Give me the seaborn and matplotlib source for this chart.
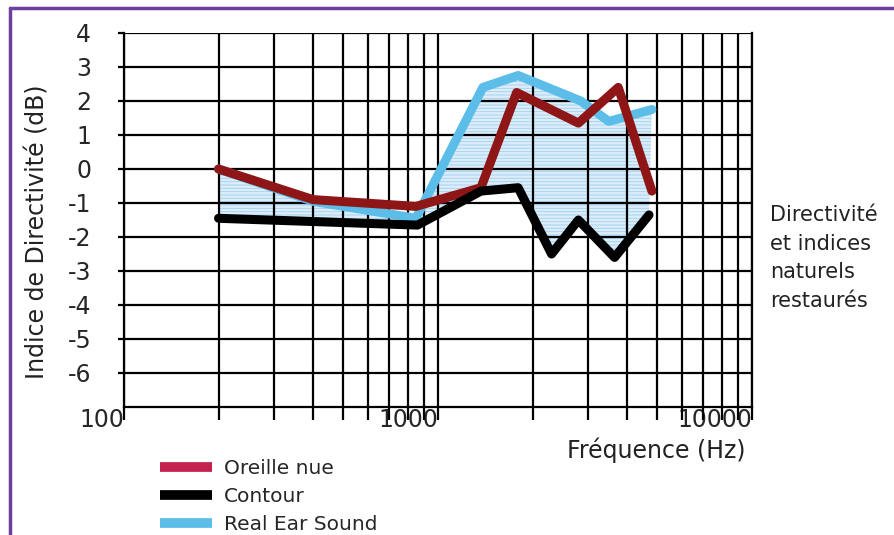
import numpy as np
import pandas as pd
import matplotlib
matplotlib.use("Agg")
import matplotlib.pyplot as plt
from matplotlib.lines import Line2D
import seaborn as sns

# ---- data ----
oreille_f = [200, 400, 850, 1370, 1780, 2800, 3750, 4800]
oreille_v = [0.0, -0.9, -1.1, -0.55, 2.25, 1.35, 2.4, -0.65]

contour_f = [200, 860, 1370, 1800, 2300, 2800, 3650, 4700]
contour_v = [-1.45, -1.65, -0.65, -0.55, -2.5, -1.5, -2.6, -1.35]

real_f = [200, 400, 850, 1390, 1800, 2850, 3500, 4800]
real_v = [0.0, -0.95, -1.45, 2.4, 2.75, 2.0, 1.4, 1.75]

y_ticks = [4, 3, 2, 1, 0, -1, -2, -3, -4, -5, -6]
x_tick_labels = ["100", "1000", "10000"]
series_names = ["Oreille nue", "Contour", "Real Ear Sound"]
note_text = "Directivité\net indices\nnaturels\nrestaurés"

# ---- styles ----
c_red = "#8e1616"
c_black = "#000000"
c_blue = "#5cbde9"
legend_colors = ["#c2224d", "#000000", "#5cbde9"]

sns.set_theme(style="white")
plt.rcParams["font.family"] = ["DejaVu Sans"]
plt.rcParams["hatch.linewidth"] = 0.6

fig = plt.figure(figsize=(8.95, 5.35), dpi=100)
fig.patch.set_facecolor("white")
ax = fig.add_axes([124 / 895, 1 - 407 / 535, (752 - 124) / 895, (407 - 33) / 535])

ax.set_xscale("log")
ax.set_xlim(100, 10000)
ax.set_ylim(-7, 4)

# fill between Real Ear Sound and Contour
poly_x = np.r_[real_f, contour_f[::-1]]
poly_y = np.r_[real_v, contour_v[::-1]]
ax.fill(poly_x, poly_y, facecolor="#dcedf9", edgecolor="#9fd0f0",
        hatch="-----", linewidth=0, zorder=1)

df_real = pd.DataFrame({"f": real_f, "v": real_v})
df_or = pd.DataFrame({"f": oreille_f, "v": oreille_v})
df_ct = pd.DataFrame({"f": contour_f, "v": contour_v})

sns.lineplot(data=df_real, x="f", y="v", ax=ax, color=c_blue, lw=6.5,
             sort=False, estimator=None, zorder=3)
sns.lineplot(data=df_or, x="f", y="v", ax=ax, color=c_red, lw=6.5,
             sort=False, estimator=None, zorder=4)
sns.lineplot(data=df_ct, x="f", y="v", ax=ax, color=c_black, lw=6.5,
             sort=False, estimator=None, zorder=5)

# grid
ax.grid(True, which="both", axis="x", color="black", lw=1.6, zorder=2)
ax.grid(True, which="major", axis="y", color="black", lw=1.6, zorder=2)
ax.set_axisbelow(False)
for sp in ax.spines.values():
    sp.set_color("black")
    sp.set_linewidth(1.6)
ax.spines["top"].set_visible(False)

ax.set_yticks(y_ticks)
ax.set_yticklabels([str(t) for t in y_ticks])
ax.set_xticks([100, 1000, 10000])
ax.set_xticklabels(x_tick_labels)
ax.tick_params(axis="y", which="major", direction="out", length=4.5, width=1.6,
               color="black", pad=19, labelsize=17, left=True)
ax.tick_params(axis="x", which="both", direction="out", length=9, width=1.6,
               color="black", pad=-8, labelsize=17, bottom=True)
for lab in ax.get_xticklabels():
    lab.set_horizontalalignment("right")
ax.set_xlabel("")
ax.set_ylabel("")

fig.text(38 / 895, 1 - 232 / 535, "Indice de Directivité (dB)", rotation=90,
         ha="center", va="center", fontsize=17, color="#222222")
fig.text(746 / 895, 1 - 450 / 535, "Fréquence (Hz)", ha="right", va="center",
         fontsize=17, color="#222222")
fig.text(770 / 895, 1 - 258 / 535, note_text, ha="left", va="center",
         fontsize=15, color="#222222", linespacing=1.55)

# legend
handles = [Line2D([0], [0], color=c, lw=7, solid_capstyle="butt") for c in legend_colors]
fig.legend(handles, series_names, loc="upper left",
           bbox_to_anchor=(142 / 895, 1 - 441 / 535), frameon=False,
           fontsize=14.5, handlelength=2.6, handletextpad=0.55, labelspacing=0.45)

# purple frame
fig.add_artist(Line2D([10 / 895, 1], [1 - 8 / 535, 1 - 8 / 535],
                      transform=fig.transFigure, color="#6f3fa0", lw=2.5))
fig.add_artist(Line2D([10.5 / 895, 10.5 / 895], [0, 1 - 8 / 535],
                      transform=fig.transFigure, color="#6f3fa0", lw=2.5))

fig.savefig("out.png", dpi=100)
